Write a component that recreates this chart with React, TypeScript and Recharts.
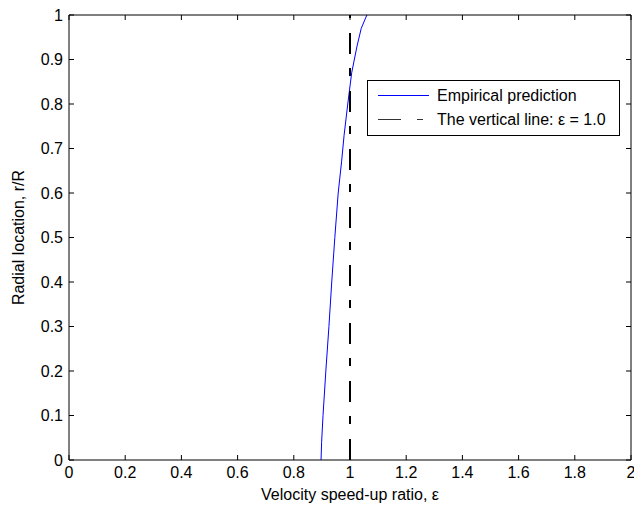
import React, { useLayoutEffect } from 'react';
import { LineChart, Line, XAxis, YAxis, Legend, Label } from 'recharts';

// Empirical prediction curve: radial location r/R vs speed-up ratio
const radialLocation = [0, 0.04, 0.1, 0.2, 0.3, 0.4, 0.5, 0.6, 0.67, 0.73, 0.8, 0.87, 0.93, 0.97, 1.0];
const speedUpRatio = [0.897, 0.899, 0.904, 0.914, 0.925, 0.935, 0.946, 0.958, 0.97, 0.979, 0.992, 1.006, 1.025, 1.04, 1.06];

// The vertical line at epsilon = 1.0
const verticalLineX = [1.0, 1.0];
const verticalLineY = [0, 1];

const xTicks = [0, 0.2, 0.4, 0.6, 0.8, 1, 1.2, 1.4, 1.6, 1.8, 2];
const yTicks = [0, 0.1, 0.2, 0.3, 0.4, 0.5, 0.6, 0.7, 0.8, 0.9, 1];

const seriesNames = ['Empirical prediction', 'The vertical line: \u03b5 = 1.0'];
const xAxisTitle = 'Velocity speed-up ratio, \u03b5';
const yAxisTitle = 'Radial location, r/R';

const curveData = speedUpRatio.map((x, i) => ({ x, y: radialLocation[i] }));
const vlineData = verticalLineX.map((x, i) => ({ x, y: verticalLineY[i] }));

const FONT = '"Liberation Sans", Arial, Helvetica, sans-serif';
const FS = 16;
const TICK = 5;
const DASH_PLOT = '21 15 8 14';
const DASH_LEGEND = '23 16 6 16';

const BottomTick = (props: any) => {
  const { x, y, payload } = props;
  return (
    <g>
      <line x1={x} x2={x} y1={y} y2={y - TICK} stroke="#000" strokeWidth={1} />
      <text x={x} y={y + 18} textAnchor="middle" fontSize={FS} fontFamily={FONT} fill="#000">
        {String(payload.value)}
      </text>
    </g>
  );
};

const TopTick = (props: any) => {
  const { x, y } = props;
  return <line x1={x} x2={x} y1={y} y2={y + TICK} stroke="#000" strokeWidth={1} />;
};

const LeftTick = (props: any) => {
  const { x, y, payload } = props;
  return (
    <g>
      <line x1={x} x2={x + TICK} y1={y} y2={y} stroke="#000" strokeWidth={1} />
      <text x={x - 6} y={y} dy="0.36em" textAnchor="end" fontSize={FS} fontFamily={FONT} fill="#000">
        {String(payload.value)}
      </text>
    </g>
  );
};

const RightTick = (props: any) => {
  const { x, y } = props;
  return <line x1={x} x2={x - TICK} y1={y} y2={y} stroke="#000" strokeWidth={1} />;
};

const XTitle = (props: any) => {
  const vb = props.viewBox || {};
  return (
    <text x={vb.x + vb.width / 2} y={vb.y + 40} textAnchor="middle" fontSize={FS} fontFamily={FONT} fill="#000">
      {xAxisTitle}
    </text>
  );
};

const YTitle = (props: any) => {
  const vb = props.viewBox || {};
  const cx = vb.x + 24;
  const cy = vb.y + vb.height / 2;
  return (
    <text
      x={cx}
      y={cy}
      transform={`rotate(-90, ${cx}, ${cy})`}
      textAnchor="middle"
      fontSize={FS}
      fontFamily={FONT}
      fill="#000"
    >
      {yAxisTitle}
    </text>
  );
};

const LegendContent = () => {
  const w = 253;
  const h = 56;
  return (
    <svg width={w} height={h} style={{ display: 'block' }}>
      <rect x={0.5} y={0.5} width={w - 1} height={h - 1} fill="#fff" stroke="#000" strokeWidth={1} />
      <line x1={11} x2={62} y1={15.5} y2={15.5} stroke="#0000ff" strokeWidth={1} />
      <text x={70} y={21} fontSize={FS} fontFamily={FONT} fill="#000">{seriesNames[0]}</text>
      <line x1={11} x2={62} y1={39.5} y2={39.5} stroke="#333" strokeWidth={1} strokeDasharray={DASH_LEGEND} />
      <text x={70} y={45} fontSize={FS} fontFamily={FONT} fill="#000">{seriesNames[1]}</text>
    </svg>
  );
};

export default function App() {
  useLayoutEffect(() => {
    document.body.style.margin = '0';
  }, []);
  return (
    <div style={{ width: 634, height: 509, background: '#fff' }}>
      <LineChart width={634} height={509} margin={{ top: 14, right: 2, left: 0, bottom: 0 }}>
        <XAxis
          xAxisId="bottom"
          type="number"
          dataKey="x"
          domain={[0, 2]}
          ticks={xTicks}
          allowDataOverflow
          height={49}
          tickLine={false}
          tickSize={0}
          tickMargin={0}
          tick={BottomTick}
          axisLine={{ stroke: '#000', strokeWidth: 1 }}
          interval={0}
          minTickGap={0}
        >
          <Label content={XTitle} />
        </XAxis>
        <XAxis
          xAxisId="top"
          orientation="top"
          type="number"
          dataKey="x"
          domain={[0, 2]}
          ticks={xTicks}
          allowDataOverflow
          height={1}
          tickLine={false}
          tickSize={0}
          tickMargin={0}
          tick={TopTick}
          axisLine={{ stroke: '#000', strokeWidth: 1 }}
          interval={0}
          minTickGap={0}
        />
        <YAxis
          yAxisId="left"
          type="number"
          dataKey="y"
          domain={[0, 1]}
          ticks={yTicks}
          allowDataOverflow
          width={69}
          tickLine={false}
          tickSize={0}
          tickMargin={0}
          tick={LeftTick}
          axisLine={{ stroke: '#000', strokeWidth: 1 }}
          interval={0}
        >
          <Label content={YTitle} />
        </YAxis>
        <YAxis
          yAxisId="right"
          orientation="right"
          type="number"
          dataKey="y"
          domain={[0, 1]}
          ticks={yTicks}
          allowDataOverflow
          width={1}
          tickLine={false}
          tickSize={0}
          tickMargin={0}
          tick={RightTick}
          axisLine={{ stroke: '#000', strokeWidth: 1 }}
          interval={0}
        />
        <Line
          xAxisId="bottom"
          yAxisId="left"
          data={curveData}
          dataKey="y"
          name={seriesNames[0]}
          stroke="#0000ff"
          strokeWidth={1}
          dot={false}
          activeDot={false}
          type="linear"
          isAnimationActive={false}
        />
        <Line
          xAxisId="bottom"
          yAxisId="left"
          data={vlineData}
          dataKey="y"
          name={seriesNames[1]}
          stroke="#000"
          strokeWidth={2}
          strokeDasharray={DASH_PLOT}
          dot={false}
          activeDot={false}
          type="linear"
          isAnimationActive={false}
        />
        <Legend
          layout="vertical"
          align="center"
          verticalAlign="middle"
          wrapperStyle={{ left: 367, top: 80, width: 253, height: 56 }}
          content={LegendContent}
        />
      </LineChart>
    </div>
  );
}
